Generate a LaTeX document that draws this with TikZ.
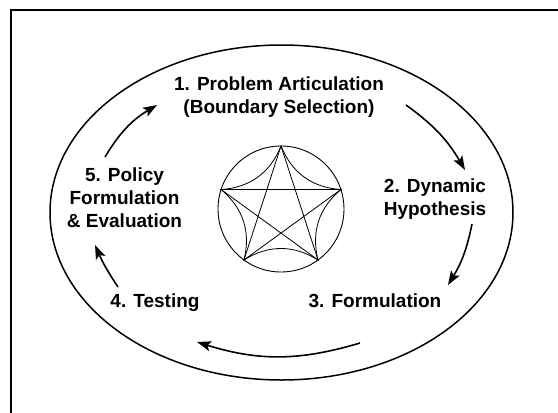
\documentclass[tikz,border=0pt]{standalone}
\usepackage{fontspec}
\setmainfont{Liberation Sans}
\usetikzlibrary{arrows.meta}
\begin{document}
\begin{tikzpicture}[x=1pt, y=-1pt,
    every node/.style={align=center, inner sep=0pt, font=\fontsize{19}{23}\selectfont\bfseries},
    cyc/.style={line width=1.6pt, -{Stealth[length=14pt, width=10pt, inset=3pt]}}]
  \useasboundingbox (0,0) rectangle (558,413);
  \draw[line width=1.7pt] (11,10) rectangle (580,430);
  \draw[line width=1.5pt] (281.5,212.5) ellipse [x radius=231.5pt, y radius=167.5pt];

  \coordinate (c) at (281,209);
  \draw[line width=0.9pt] (c) circle [radius=63pt];
  \coordinate (t) at ([shift={(90:63pt)}]c);
  \coordinate (ur) at ([shift={(18:63pt)}]c);
  \coordinate (lr) at ([shift={(-54:63pt)}]c);
  \coordinate (ll) at ([shift={(234:63pt)}]c);
  \coordinate (ul) at ([shift={(162:63pt)}]c);
  \draw[line width=0.8pt] (t) -- (ll) -- (ur) -- (ul) -- (lr) -- cycle;
  \draw[line width=0.8pt] (t) to[bend right=32] (ur) to[bend right=32] (lr)
    to[bend right=32] (ll) to[bend right=32] (ul) to[bend right=32] (t);

  \node (pa) at (279,97) {1. Problem Articulation\\(Boundary Selection)};
  \node (dh) at (435,199) {2. Dynamic\\Hypothesis};
  \node (fo) at (375,301) {3. Formulation};
  \node (te) at (155,303) {4. Testing};
  \node (pf) at (124.5,198) {5. Policy\\Formulation\\\& Evaluation};

  \coordinate (a1) at (406,105);
  \coordinate (b1) at (465,170);
  \coordinate (a2) at (472,224);
  \coordinate (b2) at (448,285);
  \coordinate (a3) at (360,343);
  \coordinate (b3) at (197,342);
  \coordinate (a4) at (118,287);
  \coordinate (b4) at (95,245);
  \coordinate (a5) at (105,157);
  \coordinate (b5) at (157,105);

  \draw[cyc] (a1) to[bend left=12] (b1);
  \draw[cyc] (a2) to[bend left=10] (b2);
  \draw[cyc] (a3) to[bend left=17] (b3);
  \draw[cyc] (a4) to[bend left=5] (b4);
  \draw[cyc] (a5) to[bend left=14] (b5);
\end{tikzpicture}
\end{document}
